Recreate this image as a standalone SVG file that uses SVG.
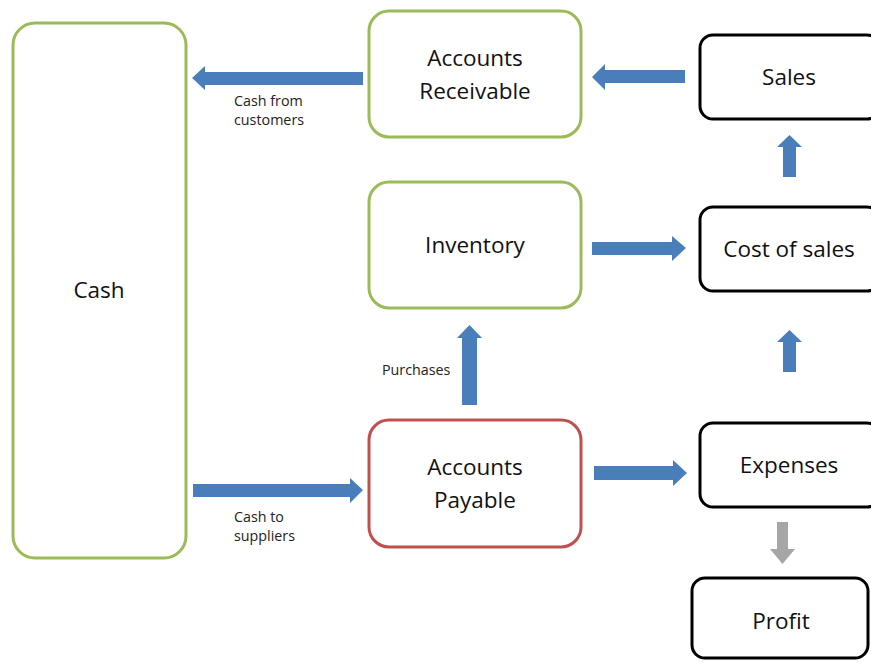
<svg xmlns="http://www.w3.org/2000/svg" width="871" height="664" viewBox="0 0 871 664">
<style>
.g{fill:#fff;stroke:#9BBB59;stroke-width:3}
.r{fill:#fff;stroke:#C0504D;stroke-width:3}
.k{fill:#fff;stroke:#000;stroke-width:3}
.t{font-family:"Open Sans","Liberation Sans",Arial,sans-serif;font-size:22.5px;fill:#111;text-anchor:middle}
.s{font-family:"Open Sans","Liberation Sans",Arial,sans-serif;font-size:14.3px;fill:#222}
.a{fill:#4A7EBB}
.ga{fill:#A6A6A6}
</style>
<rect width="871" height="664" fill="#fff"/>
<g id="cash"><rect class="g" x="13" y="23" width="173" height="535" rx="22"/><text class="t" x="99" y="298">Cash</text></g>
<g id="ar"><rect class="g" x="369" y="11" width="212" height="126" rx="20"/><text class="t" x="475" y="66">Accounts</text><text class="t" x="475" y="99">Receivable</text></g>
<g id="inventory"><rect class="g" x="369" y="182" width="212" height="126" rx="20"/><text class="t" x="475" y="253">Inventory</text></g>
<g id="ap"><rect class="r" x="369" y="420" width="212" height="127" rx="20"/><text class="t" x="475" y="475">Accounts</text><text class="t" x="475" y="508">Payable</text></g>
<g id="sales"><rect class="k" x="700" y="35" width="180" height="84" rx="13"/><text class="t" x="789" y="85">Sales</text></g>
<g id="cos"><rect class="k" x="700" y="207" width="180" height="84" rx="13"/><text class="t" x="789" y="257">Cost of sales</text></g>
<g id="expenses"><rect class="k" x="700" y="423" width="180" height="84" rx="13"/><text class="t" x="789" y="473">Expenses</text></g>
<g id="profit"><rect class="k" x="692" y="578" width="176" height="80" rx="13"/><text class="t" x="781" y="629">Profit</text></g>
<g id="connectors">
<polygon class="a" points="363,72 205,72 205,66 192,78 205,90 205,85 363,85"/>
<polygon class="a" points="685,70 605,70 605,64 592,77 605,90 605,83 685,83"/>
<polygon class="a" points="592,242 672,242 672,236 686,248 672,261 672,255 592,255"/>
<polygon class="a" points="193,484 350,484 350,478 363,490 350,503 350,497 193,497"/>
<polygon class="a" points="594,466 673,466 673,460 687,473 673,486 673,480 594,480"/>
<polygon class="a" points="462,405 462,338 457,338 469.5,325 482,338 477,338 477,405"/>
<polygon class="a" points="783,177 783,147 777,147 789.5,135 802,147 796,147 796,177"/>
<polygon class="a" points="783,372 783,342 777,342 789.5,330 802,342 796,342 796,372"/>
<polygon class="ga" points="777,522 788,522 788,549 795,549 782.5,564 770,549 777,549"/>
<text class="s" x="234" y="106">Cash from</text><text class="s" x="234" y="125">customers</text>
<text class="s" x="234" y="522">Cash to</text><text class="s" x="234" y="541">suppliers</text>
<text class="s" x="382" y="375">Purchases</text>
</g>
</svg>
